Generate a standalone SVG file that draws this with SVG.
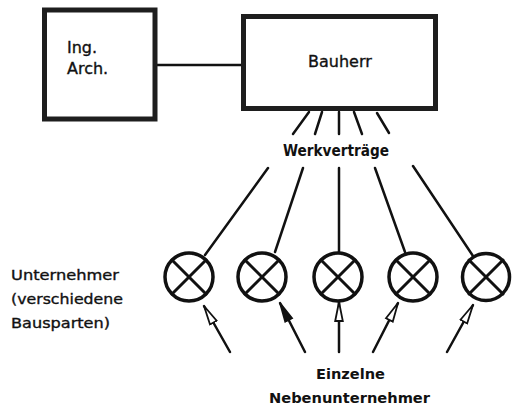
<svg xmlns="http://www.w3.org/2000/svg" width="512" height="412" viewBox="0 0 512 412">
<defs>
<style>
.box{fill:#fff;stroke:#1e1e1e;stroke-width:5}
.ln{stroke:#111;stroke-width:2.5;fill:none;stroke-linecap:round}
.circ{fill:#fff;stroke:#111;stroke-width:3.5}
.x{stroke:#111;stroke-width:3;stroke-linecap:round}
.t{font-family:"DejaVu Sans","Liberation Sans",sans-serif;font-size:14px;fill:#111;stroke:#111;stroke-width:0.35}
.big{font-size:16px}
.c{font-family:"DejaVu Sans Condensed","DejaVu Sans","Liberation Sans",sans-serif}
.b{font-weight:bold;stroke-width:0}
</style>
<marker id="ah" viewBox="0 -6 22 12" refX="20" refY="0" markerWidth="22" markerHeight="12" markerUnits="userSpaceOnUse" orient="auto">
<path d="M1,-3.8 L20,0 L1,3.8 Z" fill="#fff" stroke="#111" stroke-width="1.8"/>
</marker>
<marker id="ahf" viewBox="0 -6 22 12" refX="20" refY="0" markerWidth="22" markerHeight="12" markerUnits="userSpaceOnUse" orient="auto">
<path d="M1,-3.8 L20,0 L1,3.8 Z" fill="#111" stroke="#111" stroke-width="1.8"/>
</marker>
</defs>
<rect width="512" height="412" fill="#fff"/>
<g id="connectors">
<line class="ln" x1="157" y1="65" x2="241" y2="65" stroke-width="2"/>
<line class="ln" x1="309" y1="112" x2="293" y2="134"/>
<line class="ln" x1="322" y1="112" x2="315" y2="134"/>
<line class="ln" x1="339" y1="112" x2="339" y2="134" stroke-width="3"/>
<line class="ln" x1="354" y1="112" x2="362" y2="134"/>
<line class="ln" x1="377" y1="113" x2="389" y2="133"/>
<line class="ln" x1="268" y1="168" x2="205" y2="255"/>
<line class="ln" x1="303" y1="168" x2="275" y2="252" stroke-width="3"/>
<line class="ln" x1="339" y1="168" x2="339" y2="253"/>
<line class="ln" x1="375" y1="168" x2="405" y2="252"/>
<line class="ln" x1="413" y1="166" x2="473" y2="256" stroke-width="3"/>
<line class="ln" x1="230" y1="352" x2="204" y2="306" marker-end="url(#ah)"/>
<line class="ln" x1="305" y1="352" x2="280" y2="303" stroke-width="3" marker-end="url(#ahf)"/>
<line class="ln" x1="339" y1="352" x2="339" y2="302" marker-end="url(#ah)"/>
<line class="ln" x1="373" y1="352" x2="398" y2="303" marker-end="url(#ah)"/>
<line class="ln" x1="447" y1="352" x2="473" y2="305" marker-end="url(#ah)"/>
</g>
<g id="ing-arch">
<rect class="box" x="44.5" y="10" width="110.5" height="109"/>
<text class="t big" x="67" y="53">Ing.</text>
<text class="t big" x="67" y="74">Arch.</text>
</g>
<g id="bauherr">
<rect class="box" x="243.5" y="16.5" width="192" height="92"/>
<text class="t big" x="308" y="67">Bauherr</text>
</g>
<g id="werkvertraege">
<text class="t c b big" x="283" y="156" textLength="106" lengthAdjust="spacingAndGlyphs">Werkverträge</text>
</g>
<g id="unternehmer-label">
<text class="t" x="11" y="280" textLength="108" lengthAdjust="spacingAndGlyphs">Unternehmer</text>
<text class="t" x="11" y="304" textLength="112" lengthAdjust="spacingAndGlyphs">(verschiedene</text>
<text class="t" x="11" y="328" textLength="99" lengthAdjust="spacingAndGlyphs">Bausparten)</text>
</g>
<g id="u1"><circle class="circ" cx="189" cy="277" r="24"/><line class="x" x1="172" y1="260" x2="206" y2="294"/><line class="x" x1="206" y1="260" x2="172" y2="294"/></g>
<g id="u2"><circle class="circ" cx="262" cy="277" r="24"/><line class="x" x1="245" y1="260" x2="279" y2="294"/><line class="x" x1="279" y1="260" x2="245" y2="294"/></g>
<g id="u3"><circle class="circ" cx="338" cy="277" r="24"/><line class="x" x1="321" y1="260" x2="355" y2="294"/><line class="x" x1="355" y1="260" x2="321" y2="294"/></g>
<g id="u4"><circle class="circ" cx="413" cy="277" r="24"/><line class="x" x1="396" y1="260" x2="430" y2="294"/><line class="x" x1="430" y1="260" x2="396" y2="294"/></g>
<g id="u5"><circle class="circ" cx="486" cy="277" r="23.5"/><line class="x" x1="469" y1="260" x2="503" y2="294"/><line class="x" x1="503" y1="260" x2="469" y2="294"/></g>
<g id="nebenunternehmer">
<text class="t b" x="316" y="379" textLength="69" lengthAdjust="spacingAndGlyphs">Einzelne</text>
<text class="t b" x="269" y="403" textLength="161" lengthAdjust="spacingAndGlyphs">Nebenunternehmer</text>
</g>
</svg>
